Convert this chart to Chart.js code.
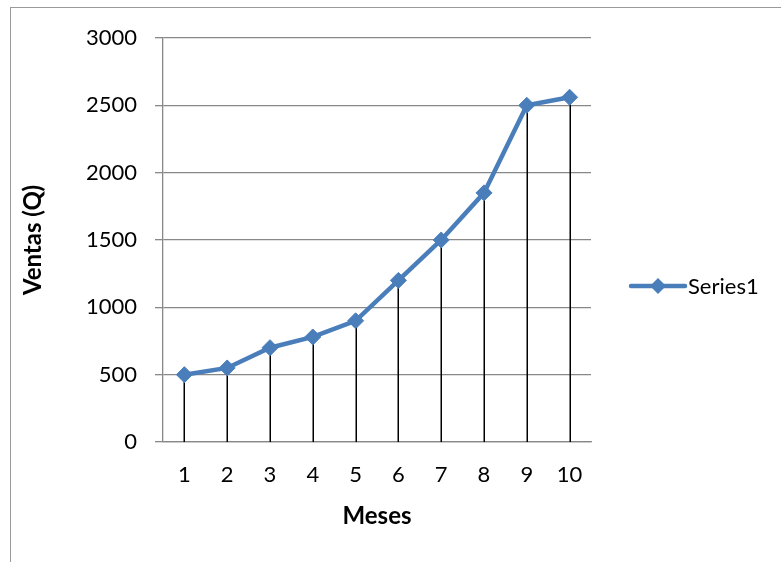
<!DOCTYPE html>
<html>
<head>
<meta charset="utf-8">
<title>Ventas por mes</title>
<script src="https://cdn.jsdelivr.net/npm/chart.js@4/dist/chart.umd.min.js"></script>
<style>
    body { margin: 0; background: #fff; }
    #wrap { position: relative; width: 781px; height: 562px; overflow: hidden; }
    #frame {
        position: absolute; left: 10px; top: 7px; width: 800px; height: 600px;
        border-left: 1.5px solid #9a9a9a; border-top: 1.5px solid #9a9a9a;
    }
    #chart { position: absolute; left: 0; top: 0; }
</style>
</head>
<body>
<div id="wrap">
    <div id="frame"></div>
    <canvas id="chart" width="781" height="562"></canvas>
</div>
<script>
const meses = ['1', '2', '3', '4', '5', '6', '7', '8', '9', '10'];
const ventas = [500, 550, 700, 780, 900, 1200, 1500, 1850, 2500, 2560];
const seriesName = 'Series1';
const yTitle = 'Ventas (Q)';
const xTitle = 'Meses';

const lineColor = '#4a7ebb';
const gridColor = '#888888';
const fontFamily = 'Lato, "Open Sans", sans-serif';

// vertical drop lines from each point down to the category axis
const dropLines = {
    id: 'dropLines',
    beforeDatasetsDraw(chart) {
        let ctx = chart.ctx;
        let bottom = chart.scales.y.getPixelForValue(0);
        ctx.save();
        ctx.strokeStyle = '#000';
        ctx.lineWidth = 1.5;
        chart.getDatasetMeta(0).data.forEach(pt => {
            ctx.beginPath();
            ctx.moveTo(Math.round(pt.x) + 0.25, pt.y);
            ctx.lineTo(Math.round(pt.x) + 0.25, bottom);
            ctx.stroke();
        });
        ctx.restore();
    }
};

// excel style legend: line with diamond marker and the series name
const sideLegend = {
    id: 'sideLegend',
    afterDraw(chart) {
        let ctx = chart.ctx;
        let x = chart.chartArea.right + 40;
        let y = 286;
        ctx.save();
        ctx.strokeStyle = lineColor;
        ctx.lineWidth = 4.5;
        ctx.lineCap = 'round';
        ctx.beginPath();
        ctx.moveTo(x, y);
        ctx.lineTo(x + 54, y);
        ctx.stroke();
        ctx.fillStyle = lineColor;
        ctx.beginPath();
        ctx.moveTo(x + 27, y - 8);
        ctx.lineTo(x + 35, y);
        ctx.lineTo(x + 27, y + 8);
        ctx.lineTo(x + 19, y);
        ctx.closePath();
        ctx.fill();
        ctx.fillStyle = '#000';
        ctx.font = '22px ' + fontFamily;
        ctx.textBaseline = 'middle';
        ctx.fillText(seriesName, x + 57, y + 1);
        ctx.restore();
    }
};

const ctx = document.getElementById('chart');
new Chart(ctx, {
    type: 'line',
    data: {
        labels: meses,
        datasets: [{
            label: seriesName,
            data: ventas,
            borderColor: lineColor,
            backgroundColor: lineColor,
            borderWidth: 4.5,
            pointStyle: 'rectRot',
            pointRadius: 8,
            pointBorderWidth: 1,
            pointBackgroundColor: lineColor,
            pointBorderColor: lineColor,
            tension: 0
        }]
    },
    options: {
        responsive: false,
        animation: false,
        devicePixelRatio: 1,
        layout: {
            padding: { left: 0, top: 38, right: 190, bottom: 0 }
        },
        plugins: {
            legend: { display: false },
            tooltip: { enabled: false }
        },
        scales: {
            x: {
                offset: true,
                grid: { display: false, drawTicks: false },
                border: { display: true, color: gridColor, width: 1.3 },
                ticks: {
                    color: '#000',
                    padding: 20,
                    font: { family: fontFamily, size: 22 }
                },
                title: {
                    display: true,
                    text: xTitle,
                    color: '#000',
                    padding: { top: 0, bottom: 31 },
                    font: { family: fontFamily, size: 24, weight: 'bold' }
                },
                afterFit(scale) {
                    scale.height = 120;
                }
            },
            y: {
                min: 0,
                max: 3000,
                grid: {
                    color: gridColor,
                    lineWidth: 1.3,
                    tickLength: 8,
                    tickColor: gridColor
                },
                border: { display: true, color: gridColor, width: 1.3 },
                ticks: {
                    stepSize: 500,
                    color: '#000',
                    padding: 18,
                    font: { family: fontFamily, size: 22 },
                    callback: value => String(value)
                },
                title: {
                    display: true,
                    text: yTitle,
                    color: '#000',
                    padding: { top: 19, bottom: 0 },
                    font: { family: fontFamily, size: 24, weight: 'bold' }
                },
                afterFit(scale) {
                    scale.width = 163;
                }
            }
        }
    },
    plugins: [dropLines, sideLegend]
});
</script>
</body>
</html>
